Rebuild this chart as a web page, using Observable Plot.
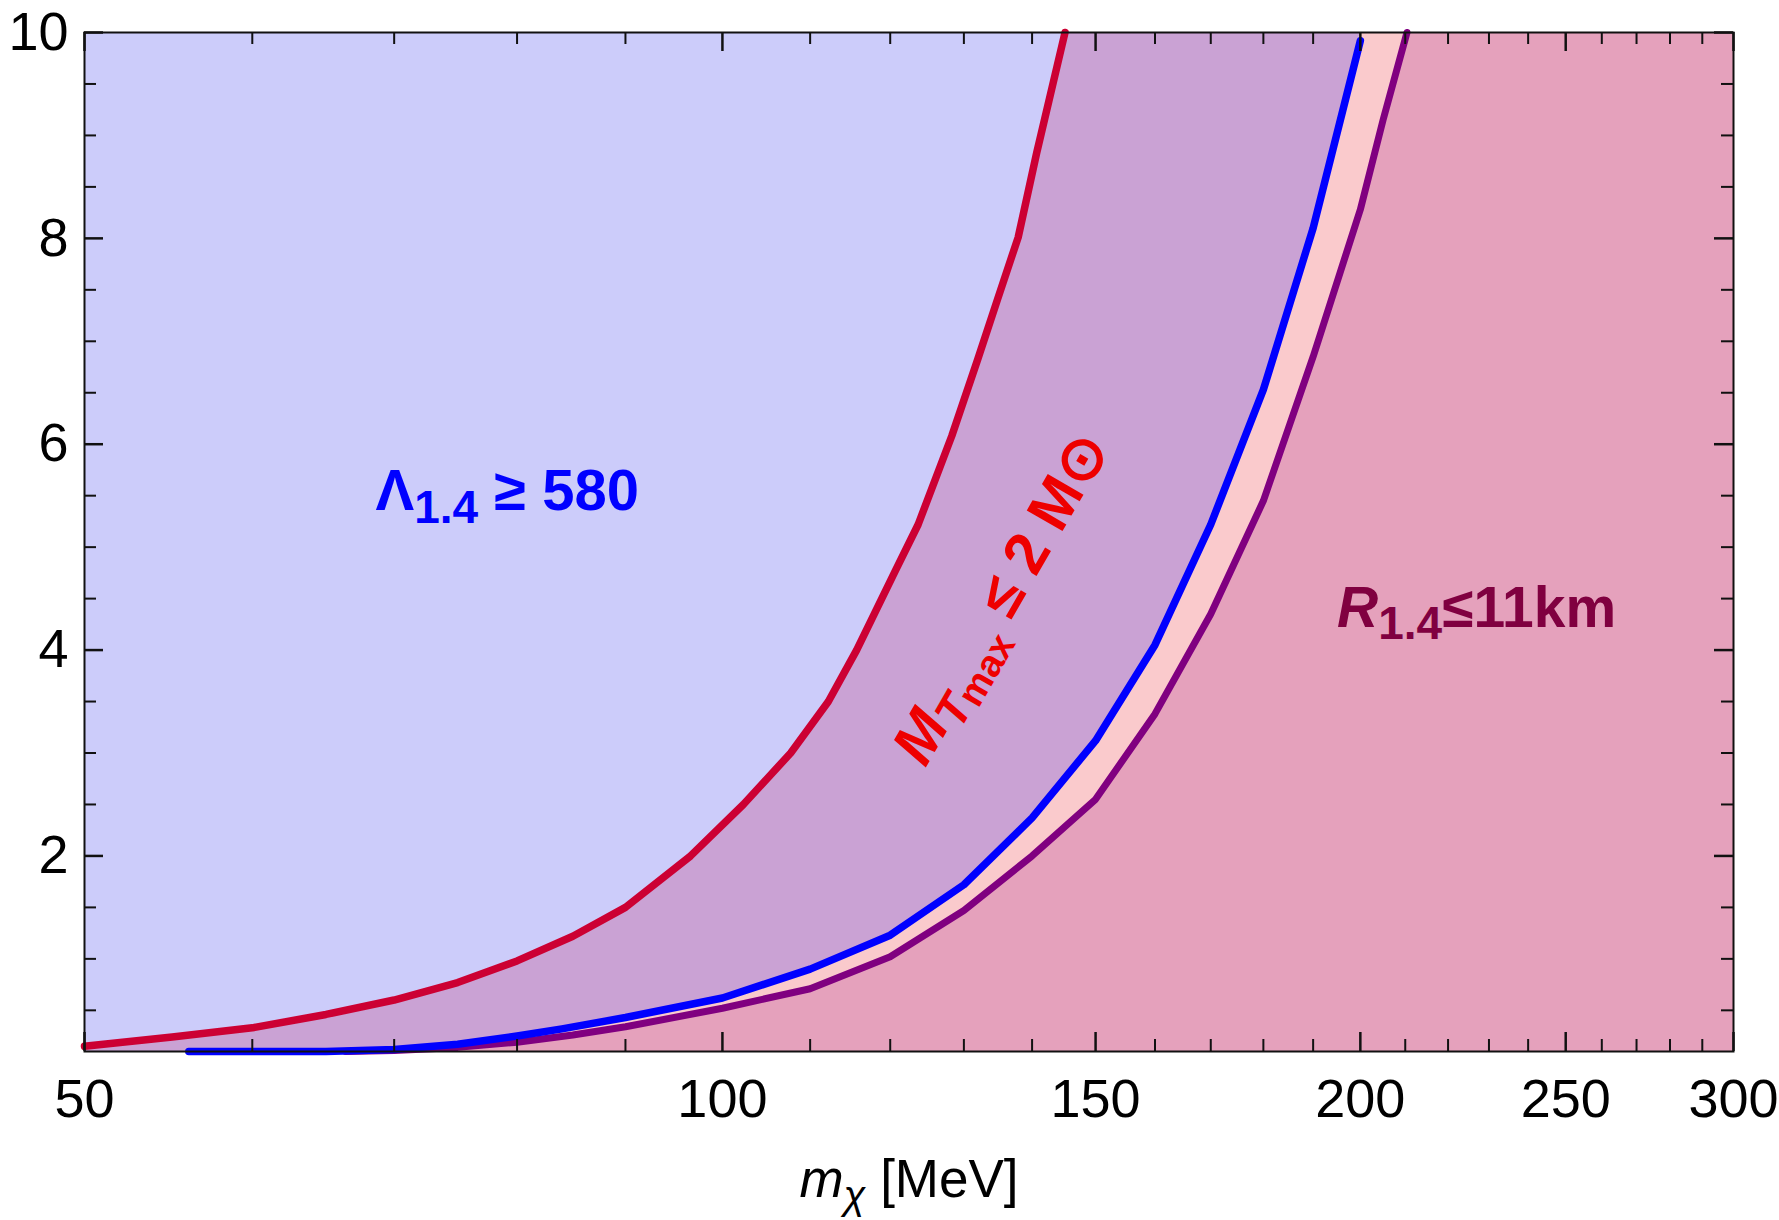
<!DOCTYPE html>
<html>
<head>
<meta charset="utf-8">
<script src="https://cdn.jsdelivr.net/npm/d3@7"></script>
<script src="https://cdn.jsdelivr.net/npm/@observablehq/plot@0.6"></script>
<style>
  html, body { margin: 0; padding: 0; background: white; }
</style>
</head>
<body>
<div id="chart"></div>
<script>
// ---------- data ----------
const xTicks = [50, 100, 150, 200, 250, 300];
const yTicks = [2, 4, 6, 8, 10];

// M_Tmax <= 2 Msun boundary (red)
const redX = [50, 55, 60, 65, 70, 75, 80, 85, 90, 96.6, 102.3, 107.7, 112.2, 115.7, 120.6, 123.7, 128.3, 132.0, 134.9, 137.9, 140.7, 145.1];
const redY = [0.15, 0.24, 0.33, 0.46, 0.60, 0.77, 0.98, 1.22, 1.50, 2.00, 2.50, 3.00, 3.50, 4.00, 4.76, 5.22, 6.08, 6.83, 7.42, 8.01, 8.83, 10.0];

// Lambda_1.4 >= 580 boundary (blue)
const blueX = [56, 60, 65, 70, 75, 80, 84, 90, 100, 110, 120, 130, 140, 150, 160, 170, 180, 190, 200];
const blueY = [0.10, 0.10, 0.10, 0.12, 0.17, 0.25, 0.32, 0.43, 0.62, 0.90, 1.23, 1.72, 2.37, 3.12, 4.05, 5.22, 6.53, 8.10, 9.92];

// R_1.4 <= 11 km boundary (purple)
const purpleX = [66.4, 70, 75, 80, 85, 90, 100, 110, 120, 130, 140, 150, 160, 170, 180, 190, 200, 205, 210.4];
const purpleY = [0.10, 0.11, 0.14, 0.19, 0.26, 0.34, 0.52, 0.71, 1.02, 1.47, 2.00, 2.55, 3.38, 4.35, 5.45, 6.85, 8.28, 9.15, 10.0];

const labelLambda = "Λ1.4 ≥ 580";
const labelMass = "MTmax ≤ 2 M⊙";
const labelRadius = "R1.4≤11km";
const labelX = "mχ [MeV]";

// ---------- build tables ----------
const zip = (X, Y) => X.map((x, i) => ({x, y: Y[i]}));
const red = zip(redX, redY);
const blue = zip(blueX, blueY);
const purple = zip(purpleX, purpleY);

const XMIN = 50, XMAX = 300, YMIN = 0.1, YMAX = 10;
const minorX = d3.range(60, 300, 10).filter(v => !xTicks.includes(v));
const minorY = d3.range(0.5, 10, 0.5).filter(v => !yTicks.includes(v));

const W = 1779, H = 1220;
const mL = 84, mR = 46, mT = 32, mB = 169;
const PH = H - mT - mB, PW = W - mL - mR;

const cLav = "#CCCCFA", cBR = "#CAA2D4", cR = "#FACACC", cRP = "#E5A1BC";
const labelFont = "Liberation Sans, Arial, sans-serif";

const svg = Plot.plot({
  width: W, height: H,
  marginLeft: mL, marginRight: mR, marginTop: mT, marginBottom: mB,
  style: {fontFamily: "'Liberation Sans Narrow', 'Arial Narrow', 'Liberation Sans', sans-serif", fontSize: "54px", color: "black", background: "white"},
  x: {type: "log", domain: [XMIN, XMAX], ticks: xTicks, tickSize: 0, tickPadding: 27, tickFormat: d => String(d), label: null},
  y: {domain: [YMIN, YMAX], ticks: yTicks, tickSize: 0, tickPadding: 16, tickFormat: d => String(d), label: null},
  marks: [
    Plot.frame({fill: cLav}),
    // region right / below the red curve
    Plot.areaY(red, {x: "x", y1: YMIN, y2: "y", fill: cBR, clip: "frame"}),
    Plot.areaX(red, {y: "y", x1: "x", x2: XMAX, fill: cBR, clip: "frame"}),
    // region right / below the blue curve
    Plot.areaY(blue, {x: "x", y1: YMIN, y2: "y", fill: cR, clip: "frame"}),
    Plot.areaX(blue, {y: (d, i) => i === blue.length - 1 ? YMAX : d.y, x1: "x", x2: XMAX, fill: cR, clip: "frame"}),
    // region right / below the purple curve
    Plot.areaY(purple, {x: "x", y1: YMIN, y2: "y", fill: cRP, clip: "frame"}),
    Plot.areaX(purple, {y: "y", x1: "x", x2: XMAX, fill: cRP, clip: "frame"}),
    // boundary lines
    Plot.line(purple, {x: "x", y: "y", stroke: "#800080", strokeWidth: 7}),
    Plot.line(blue, {x: "x", y: "y", stroke: "#0000FF", strokeWidth: 7.5}),
    Plot.line(red, {x: "x", y: "y", stroke: "#CC0033", strokeWidth: 7.5}),
    // frame and inward ticks on all four sides
    Plot.frame({stroke: "#111", strokeWidth: 2}),
    Plot.ruleX(minorX, {x: d => d, insetTop: PH - 12, stroke: "#111", strokeWidth: 2}),
    Plot.ruleX(minorX, {x: d => d, insetBottom: PH - 12, stroke: "#111", strokeWidth: 2}),
    Plot.ruleX(xTicks, {x: d => d, insetTop: PH - 19, stroke: "#111", strokeWidth: 2.5}),
    Plot.ruleX(xTicks, {x: d => d, insetBottom: PH - 19, stroke: "#111", strokeWidth: 2.5}),
    Plot.ruleY(minorY, {y: d => d, insetRight: PW - 12, stroke: "#111", strokeWidth: 2}),
    Plot.ruleY(minorY, {y: d => d, insetLeft: PW - 12, stroke: "#111", strokeWidth: 2}),
    Plot.ruleY(yTicks, {y: d => d, insetRight: PW - 19, stroke: "#111", strokeWidth: 2.5}),
    Plot.ruleY(yTicks, {y: d => d, insetLeft: PW - 19, stroke: "#111", strokeWidth: 2.5}),
    // axis title
    Plot.text([labelX], {text: d => d, frameAnchor: "bottom", dy: 145, lineAnchor: "bottom", textAnchor: "middle", fontSize: 53, fontFamily: labelFont, fill: "black"}),
    // region labels
    Plot.text([labelLambda], {text: d => d, x: 68.6, y: 5.36, textAnchor: "start", lineAnchor: "bottom", fill: "#0000FF", fontSize: 58, fontWeight: "bold", fontFamily: labelFont}),
    Plot.text([labelMass], {text: d => d, x: 135.4, y: 4.5, rotate: -60, textAnchor: "middle", lineAnchor: "middle", fill: "#EE0000", fontSize: 60, fontWeight: "bold", fontFamily: labelFont}),
    Plot.text([labelRadius], {text: d => d, x: 195, y: 4.22, textAnchor: "start", lineAnchor: "bottom", fill: "#800040", fontSize: 57, fontWeight: "bold", fontFamily: labelFont})
  ]
});

// rich text (sub-scripts / italics) for the labels
function rich(match, parts) {
  svg.querySelectorAll("text").forEach(t => {
    if (t.textContent === match) {
      t.textContent = "";
      for (const p of parts) {
        const ts = document.createElementNS("http://www.w3.org/2000/svg", "tspan");
        ts.textContent = p.t;
        if (p.dy) ts.setAttribute("dy", p.dy);
        if (p.size) ts.setAttribute("font-size", p.size);
        if (p.italic) ts.setAttribute("font-style", "italic");
        t.appendChild(ts);
      }
    }
  });
}
rich(labelLambda, [{t: "Λ"}, {t: "1.4", dy: 13, size: 46}, {t: " ≥ 580", dy: -13, size: 58}]);
rich(labelMass, [{t: "M", italic: true}, {t: "T", italic: true, dy: 11, size: 46}, {t: "max", dy: 5, size: 38}, {t: " ≤ 2 M⊙", dy: -16, size: 60}]);
rich(labelRadius, [{t: "R", italic: true}, {t: "1.4", dy: 12, size: 46}, {t: "≤11km", dy: -12, size: 57}]);
rich(labelX, [{t: "m", italic: true}, {t: "χ", italic: true, dy: 12, size: 40}, {t: " [MeV]", dy: -12, size: 53}]);

document.getElementById("chart").appendChild(svg);
</script>
</body>
</html>
